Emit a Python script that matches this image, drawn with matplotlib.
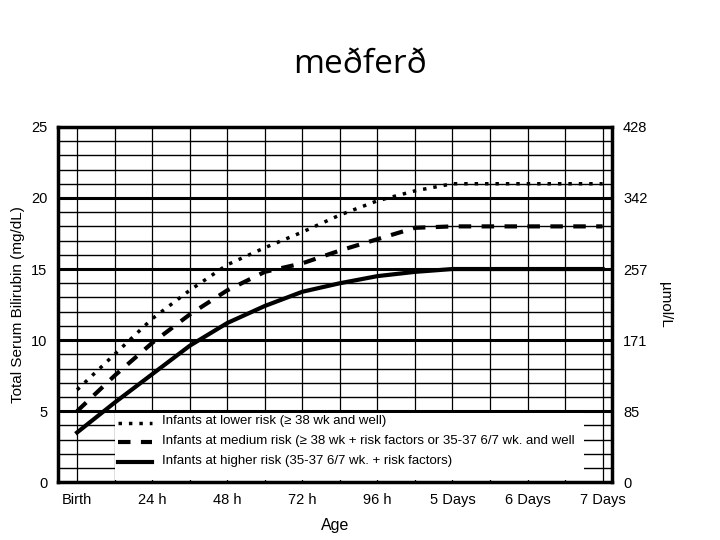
import matplotlib
matplotlib.use("Agg")
import matplotlib.pyplot as plt
from matplotlib.patches import Rectangle

hours = [0, 12, 24, 36, 48, 60, 72, 84, 96, 108, 120, 144, 168]
lower = [6.5, 9.0, 11.5, 13.5, 15.3, 16.5, 17.6, 18.8, 19.8, 20.5, 21.0, 21.0, 21.0]
medium = [5.0, 7.5, 9.8, 11.8, 13.5, 14.8, 15.4, 16.3, 17.1, 17.9, 18.0, 18.0, 18.0]
higher = [3.5, 5.6, 7.6, 9.6, 11.2, 12.4, 13.4, 14.0, 14.5, 14.8, 15.0, 15.0, 15.0]
xticks = [0, 24, 48, 72, 96, 120, 144, 168]
xlabels = ["Birth", "24 h", "48 h", "72 h", "96 h", "5 Days", "6 Days", "7 Days"]
yticks = [0, 5, 10, 15, 20, 25]
right_labels = ["0", "85", "171", "257", "342", "428"]
legend_labels = ["Infants at lower risk (≥ 38 wk and well)",
                 "Infants at medium risk (≥ 38 wk + risk factors or 35-37 6/7 wk. and well",
                 "Infants at higher risk (35-37 6/7 wk. + risk factors)"]

plt.rcParams['font.family'] = ['Liberation Sans', 'DejaVu Sans']
fig = plt.figure(figsize=(7.2, 5.4), dpi=100)
fig.text(0.5, 0.865, "meðferð", ha="center", fontsize=24, family=["Open Sans", "DejaVu Sans"])
ax = fig.add_axes([0.081, 0.107, 0.769, 0.658])
xmin, xmax = -6, 171
ax.set_xlim(xmin, xmax)
ax.set_ylim(0, 25)
for y in range(1, 25):
    ax.axhline(y, color="black", lw=2.2 if y % 5 == 0 else 1.0, zorder=1)
for x in range(0, 169, 12):
    ax.axvline(x, color="black", lw=0.9, zorder=1)
# legend area
ax.add_patch(Rectangle((12, 0.15), 150, 4.75, facecolor="white", edgecolor="none", zorder=2))
ax.plot(hours, lower, color="black", lw=2.5, ls=(0, (1, 2)), zorder=3)
ax.plot(hours, medium, color="black", lw=3, ls=(0, (3, 2.5)), zorder=3)
ax.plot(hours, higher, color="black", lw=3, zorder=3)
styles = [dict(lw=2.5, ls=(0, (1, 2))), dict(lw=3, ls=(0, (3, 2.5))), dict(lw=3, ls="-")]
for i, (lab, st) in enumerate(zip(legend_labels, styles)):
    yy = 4.3 - i * 1.4
    ax.plot([13, 24], [yy - 0.1, yy - 0.1], color="black", zorder=4, **st)
    ax.text(27, yy, lab, fontsize=9.5, va="center", zorder=4)
for s in ax.spines.values():
    s.set_linewidth(2.5)
ax.set_xticks(xticks)
ax.set_xticklabels(xlabels, fontsize=10.5)
ax.set_yticks(yticks)
ax.set_yticklabels([str(v) for v in yticks], fontsize=10.5)
ax.tick_params(length=0, pad=8)
ax.set_ylabel("Total Serum Bilirubin (mg/dL)", fontsize=11)
ax.set_xlabel("Age", fontsize=11.5, labelpad=8)
ax2 = ax.twinx()
ax2.set_ylim(0, 25)
ax2.set_yticks(yticks)
ax2.set_yticklabels(right_labels, fontsize=10.5)
ax2.tick_params(length=0, pad=8)
ax2.set_ylabel("µmol/L", rotation=270, fontsize=11, labelpad=18)
fig.savefig("out.png", dpi=100)
